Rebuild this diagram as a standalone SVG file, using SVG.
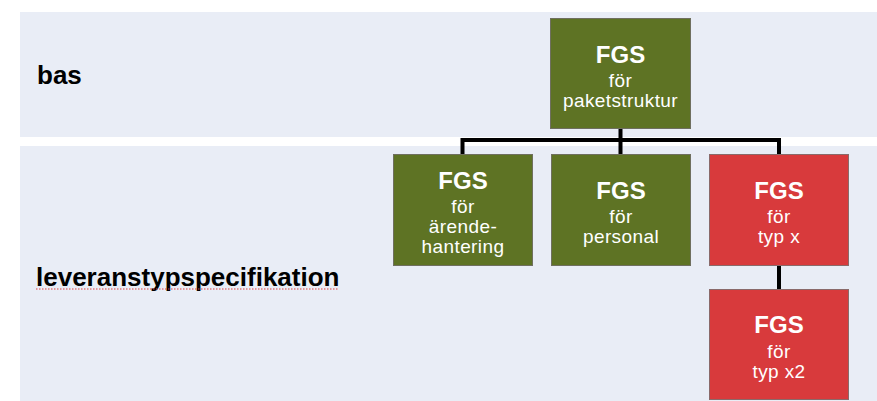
<svg xmlns="http://www.w3.org/2000/svg" width="877" height="401" viewBox="0 0 877 401">
<style>
.band{fill:#E9EDF6}
.green{fill:#5E7324;stroke:#6f6f5f;stroke-width:1}
.red{fill:#D83A3C;stroke:#8a6a6a;stroke-width:1}
.t1{font-family:"Liberation Sans",Arial,sans-serif;font-weight:bold;font-size:24px;fill:#fff;text-anchor:middle}
.t2{font-family:"Liberation Sans",Arial,sans-serif;font-size:19px;letter-spacing:0.4px;fill:#fff;text-anchor:middle}
.lbl{font-family:"Liberation Sans",Arial,sans-serif;font-weight:bold;font-size:26px;fill:#000}
.conn{stroke:#000;stroke-width:4;fill:none}
</style>
<rect width="877" height="401" fill="#fff"/>
<rect class="band" x="20" y="12" width="857" height="125"/>
<rect class="band" x="20" y="146" width="857" height="255"/>
<text class="lbl" x="37" y="84">bas</text>
<text class="lbl" x="36" y="286">leveranstypspecifikation</text>
<line x1="36" y1="289" x2="338" y2="289" stroke="#e04040" stroke-width="1.2" stroke-dasharray="1.5,1.5"/>
<g id="connectors">
<path class="conn" d="M620.5 128 V154 M462.5 154 V140 H779 V154 M779 266 V289"/>
</g>
<g id="n-paketstruktur">
<rect class="green" x="550.5" y="18.5" width="140" height="110"/>
<text class="t1" x="620.5" y="63">FGS</text>
<text class="t2" x="620.5" y="87">för</text>
<text class="t2" x="620.5" y="107">paketstruktur</text>
</g>
<g id="n-arende">
<rect class="green" x="393.5" y="154.5" width="139" height="111"/>
<text class="t1" x="463" y="189">FGS</text>
<text class="t2" x="463" y="213">för</text>
<text class="t2" x="463" y="233">ärende-</text>
<text class="t2" x="463" y="253">hantering</text>
</g>
<g id="n-personal">
<rect class="green" x="551.5" y="154.5" width="139" height="111"/>
<text class="t1" x="621" y="199">FGS</text>
<text class="t2" x="621" y="223">för</text>
<text class="t2" x="621" y="243">personal</text>
</g>
<g id="n-typx">
<rect class="red" x="709.5" y="154.5" width="139" height="111"/>
<text class="t1" x="779" y="199">FGS</text>
<text class="t2" x="779" y="223">för</text>
<text class="t2" x="779" y="243">typ x</text>
</g>
<g id="n-typx2">
<rect class="red" x="709.5" y="289.5" width="139" height="110"/>
<text class="t1" x="779" y="333">FGS</text>
<text class="t2" x="779" y="358">för</text>
<text class="t2" x="779" y="378">typ x2</text>
</g>
</svg>
